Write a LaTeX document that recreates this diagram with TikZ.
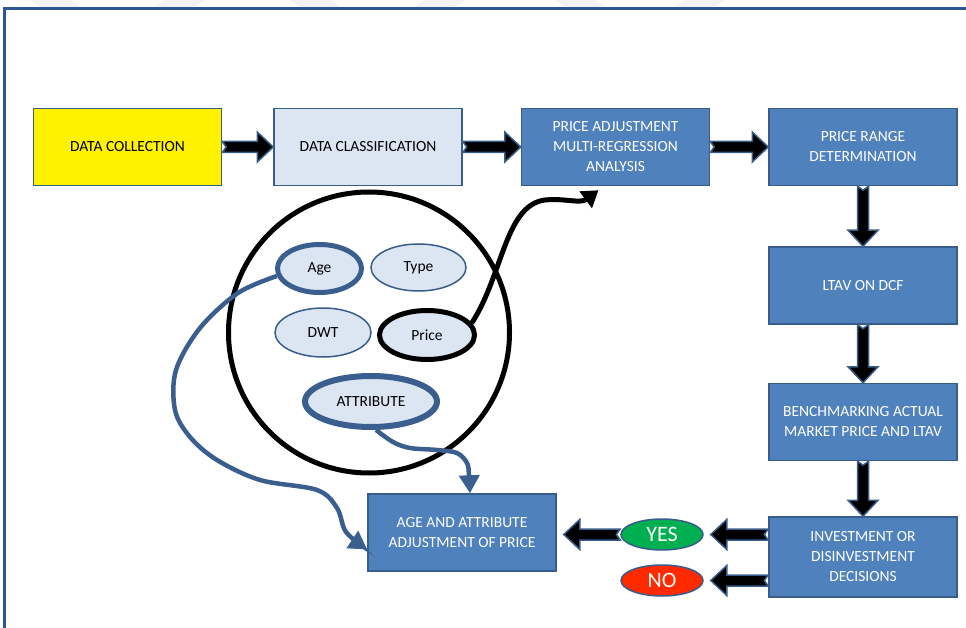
\documentclass[tikz,border=0pt]{standalone}
\usepackage{fontspec}
\setmainfont{Carlito}
\usepackage{tikz}
\usetikzlibrary{positioning}
\usetikzlibrary{calc}
\usetikzlibrary{shapes.geometric}
\usetikzlibrary{arrows.meta}

\definecolor{boxblue}{HTML}{4F81BD}
\definecolor{boxline}{HTML}{385D8A}
\definecolor{palefill}{HTML}{DCE6F2}
\definecolor{linkblue}{HTML}{3A5F8F}
\definecolor{yesgreen}{HTML}{00B050}
\definecolor{nored}{HTML}{FF2A00}
\definecolor{framecol}{HTML}{2F5592}

% fat block arrow from one anchor to another
\newcommand{\fatarrow}[2]{%
  \draw[fatArrow] let \p1=(#1), \p2=(#2),
    \n1={atan2(\y2-\y1,\x2-\x1)}, \n2={veclen(\x2-\x1,\y2-\y1)} in
    [shift={(\p1)}, rotate=\n1]
    (0pt,5.5pt) -- ({\n2-16pt},5.5pt) -- ({\n2-16pt},15pt) -- ({\n2},0pt)
    -- ({\n2-16pt},-15pt) -- ({\n2-16pt},-5.5pt) -- (0pt,-5.5pt) -- (4pt,0pt) -- cycle;}

\begin{document}
\begin{tikzpicture}[
    x=1pt, y=-1pt,
    node distance=51pt and 51pt,
    % Styling for the nodes
    flowBox/.style={
        rectangle,
        draw=boxline,
        line width=1.5pt,
        fill=boxblue,
        text=white,
        minimum width=188pt,
        minimum height=77pt,
        align=center,
        font=\fontsize{15.5}{20}\selectfont
    },
    paleBox/.style={flowBox, fill=palefill, text=black},
    attrNode/.style={
        ellipse,
        draw=boxline,
        line width=1.5pt,
        fill=palefill,
        inner sep=0pt,
        font=\fontsize{15.5}{18}\selectfont
    },
    keyAttr/.style={attrNode, draw=linkblue, line width=5pt},
    answerNode/.style={
        ellipse,
        draw=boxline,
        line width=1.5pt,
        text=white,
        inner sep=0pt,
        minimum width=82pt,
        minimum height=31pt,
        font=\fontsize{22}{24}\selectfont
    },
    fatArrow/.style={fill=black, draw=boxline, line width=1.5pt},
    attrLink/.style={draw=linkblue, line width=4.5pt, -{Triangle[length=18pt,width=20pt]}},
    priceLink/.style={draw=black, line width=5pt, -{Triangle[length=16pt,width=20pt]}}
]
    \useasboundingbox (0,0) rectangle (966,628);

    % faint stripes and frame
    \foreach \sx/\sl in {30/12, 165/-12, 290/12, 425/-12, 555/12, 685/-12}
        \fill[gray!10] (\sx,0) -- ++(40,0) -- ++(\sl,8) -- ++(-40,0) -- cycle;
    \draw[framecol, line width=3pt] (4.5,628) -- (4.5,8.5) -- (966,8.5);

    % Define Nodes
    \node[paleBox, fill=yellow] (dc) at (127.5,147) {DATA COLLECTION};
    \node[paleBox] (dcl) [right=51pt of dc] {DATA CLASSIFICATION};
    \node[flowBox] (pa) [right=58pt of dcl] {PRICE ADJUSTMENT\\MULTI-REGRESSION\\ANALYSIS};
    \node[flowBox] (pr) [right=58pt of pa] {PRICE RANGE\\DETERMINATION};
    \node[flowBox] (ltav) [below=60pt of pr] {LTAV ON DCF};
    \node[flowBox] (bm) [below=58pt of ltav] {BENCHMARKING ACTUAL\\MARKET PRICE AND LTAV};
    \node[flowBox, minimum height=80pt] (inv) [below=55pt of bm] {INVESTMENT OR\\DISINVESTMENT\\DECISIONS};
    \node[flowBox] (adj) at (462,532.5) {AGE AND ATTRIBUTE\\ADJUSTMENT OF PRICE};

    \node[answerNode, fill=yesgreen] (yes) at (662,534.5) {YES};
    \node[answerNode, fill=nored] (no) at (662,580.5) {NO};

    % attribute pool
    \node[circle, draw, line width=5pt, minimum size=281pt] (pool) at (369,332.5) {};
    \node[keyAttr, minimum width=84pt, minimum height=48pt] (age) at (319.5,268.5) {Age};
    \node[attrNode, minimum width=95pt, minimum height=47pt] (type) at (418.5,267.5) {Type};
    \node[attrNode, minimum width=96pt, minimum height=49pt] (dwt) at (323,332.5) {DWT};
    \node[keyAttr, draw=black, minimum width=95pt, minimum height=49pt] (price) at (427,335) {Price};
    \node[keyAttr, line width=6pt, minimum width=132pt, minimum height=51pt] (attr) at (371,401.5) {ATTRIBUTE};

    % Draw Edges
    \fatarrow{dc.east}{dcl.west}
    \fatarrow{dcl.east}{dcl.east -| pa.west}
    \fatarrow{pa.east}{pa.east -| pr.west}
    \fatarrow{pr.south}{pr.south |- ltav.north}
    \fatarrow{ltav.south}{ltav.south |- bm.north}
    \fatarrow{bm.south}{bm.south |- inv.north}
    \fatarrow{inv.west |- yes.east}{$(yes.east)+(7,0)$}
    \fatarrow{inv.west |- no.east}{$(no.east)+(7,0)$}
    \fatarrow{yes.west}{$(adj.east |- yes.west)+(7,0)$}

    \draw[priceLink] (price.15) .. controls (503,275) and (505,205) .. (545,200)
        .. controls (565,198) and (580,204) .. ($(pa.south)+(-17,4)$);
    \draw[attrLink] plot[smooth, tension=0.55] coordinates {(age.190) (238,293) (200,328)
        (176,370) (175,410) (190,437) (217,460) (260,480) (317,490) (337,508) (346,532)
        ($(adj.west)+(0,17)$)};
    \draw[attrLink] plot[smooth, tension=0.55] coordinates {(attr.-80) (393,442) (410,448)
        (437,450) (457,453) (467,463) (469,475) ($(adj.north)+(8,0)$)};

\end{tikzpicture}
\end{document}
